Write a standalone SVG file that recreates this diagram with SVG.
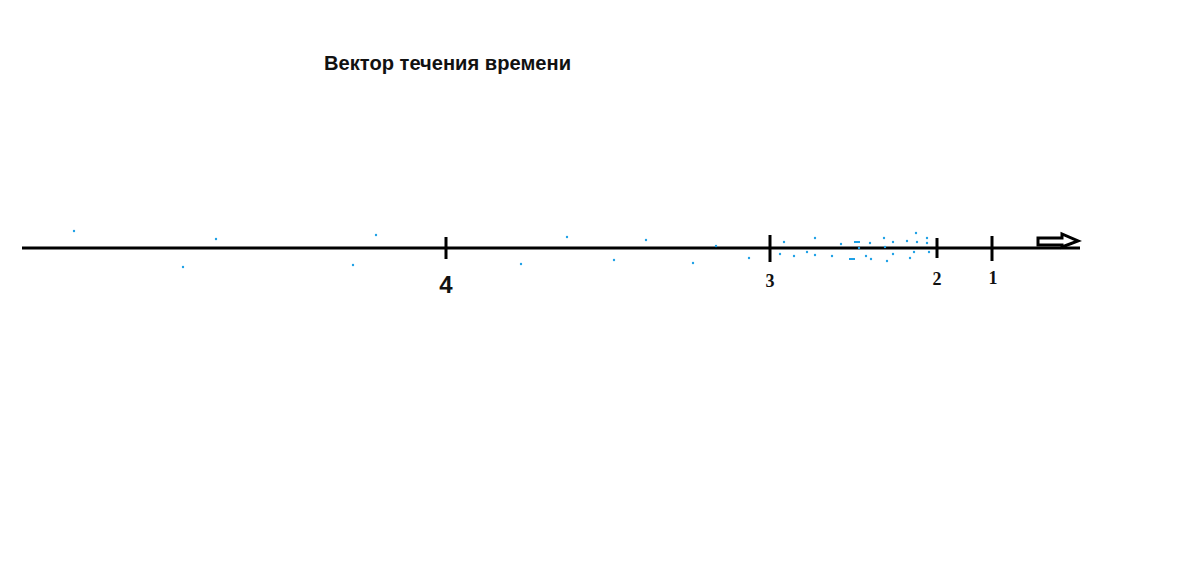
<svg xmlns="http://www.w3.org/2000/svg" width="1200" height="572" viewBox="0 0 1200 572">
<style>
.ax{stroke:#000;stroke-width:3;fill:none}
.tk{stroke:#000;stroke-width:3}
.dt{fill:#1ea0e6}
.lb{font-family:"Liberation Serif",serif;font-weight:bold;fill:#111;text-anchor:middle;font-size:18px}
.tt{font-family:"Liberation Sans",Arial,sans-serif;font-weight:bold;font-size:21px;fill:#111}
</style>
<rect width="1200" height="572" fill="#fff"/>
<text class="tt" x="324" y="70" textLength="247" lengthAdjust="spacingAndGlyphs">Вектор течения времени</text>
<g id="connectors">
<line class="ax" x1="22" y1="248" x2="1080" y2="248"/>
<path class="ax" stroke-width="2.5" d="M1038,238 H1062 V234 L1078,241 L1062,247 V245 H1038 Z"/>
</g>
<g id="tick4"><line class="tk" x1="446" y1="237" x2="446" y2="259"/><text class="lb" x="446" y="293" style="font-family:'Liberation Sans',sans-serif;font-size:24px">4</text></g>
<g id="tick3"><line class="tk" x1="770" y1="235" x2="770" y2="262"/><text class="lb" x="770" y="287">3</text></g>
<g id="tick2"><line class="tk" x1="937" y1="238" x2="937" y2="258"/><text class="lb" x="937" y="285">2</text></g>
<g id="tick1"><line class="tk" x1="992" y1="236" x2="992" y2="261"/><text class="lb" x="993" y="284">1</text></g>
<g id="dots" class="dt">
<circle cx="74" cy="231" r="1.2"/><circle cx="183" cy="267" r="1.2"/><circle cx="216" cy="239" r="1.2"/><circle cx="353" cy="265" r="1.2"/><circle cx="376" cy="235" r="1.2"/>
<circle cx="521" cy="264" r="1.2"/><circle cx="567" cy="237" r="1.2"/><circle cx="614" cy="260" r="1.2"/><circle cx="646" cy="240" r="1.2"/><circle cx="693" cy="263" r="1.2"/><circle cx="716" cy="246" r="1.2"/><circle cx="749" cy="258" r="1.2"/>
<circle cx="784" cy="242" r="1.2"/><circle cx="780" cy="254" r="1.2"/><circle cx="794" cy="256" r="1.2"/><circle cx="807" cy="252" r="1.2"/><circle cx="815" cy="238" r="1.2"/><circle cx="815" cy="255" r="1.2"/><circle cx="832" cy="256" r="1.2"/><circle cx="841" cy="244" r="1.2"/>
<rect x="854" y="241" width="6" height="2"/><circle cx="859" cy="248" r="1.2"/><rect x="849" y="258" width="6" height="2"/>
<circle cx="866" cy="256" r="1.2"/><circle cx="870" cy="243" r="1.2"/><circle cx="871" cy="259" r="1.2"/><circle cx="884" cy="238" r="1.2"/><circle cx="885" cy="247" r="1.2"/><circle cx="887" cy="261" r="1.2"/><circle cx="893" cy="242" r="1.2"/><circle cx="893" cy="254" r="1.2"/><circle cx="907" cy="241" r="1.2"/><circle cx="910" cy="258" r="1.2"/><circle cx="914" cy="252" r="1.2"/><circle cx="916" cy="233" r="1.2"/><circle cx="917" cy="242" r="1.2"/><circle cx="927" cy="238" r="1.2"/><circle cx="927" cy="243" r="1.2"/><circle cx="929" cy="252" r="1.2"/>
</g>
</svg>
